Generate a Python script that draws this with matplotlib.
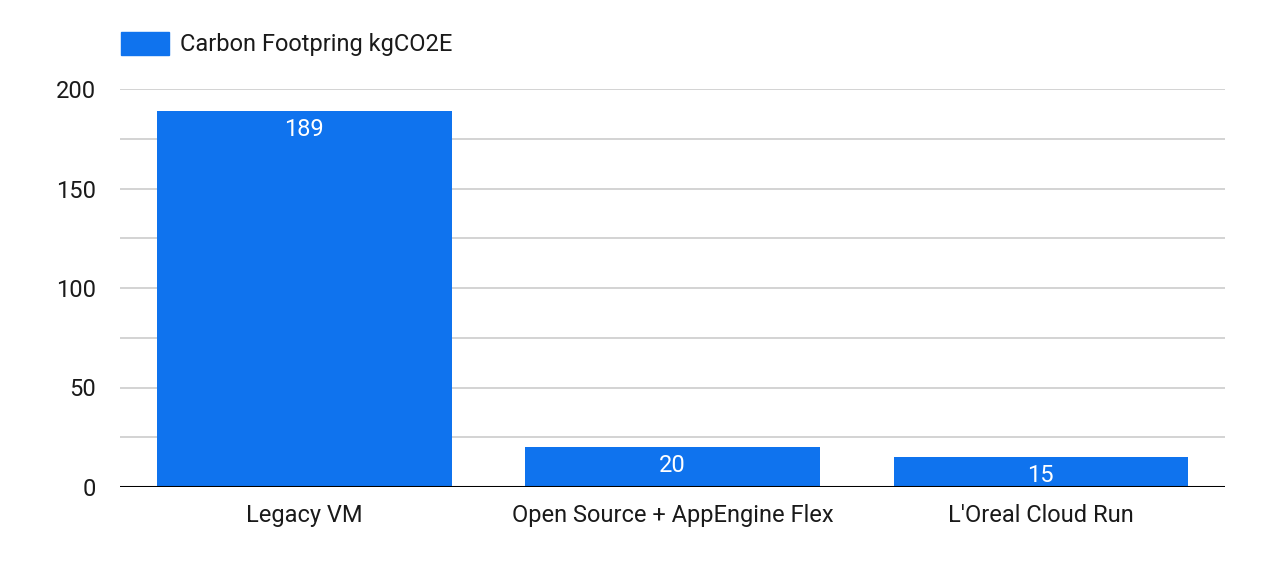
import matplotlib
matplotlib.use("Agg")
import numpy as np
import matplotlib.pyplot as plt
from matplotlib.patches import Rectangle

categories = ["Legacy VM", "Open Source + AppEngine Flex", "L'Oreal Cloud Run"]
values = [189, 20, 15]
series_name = "Carbon Footpring kgCO2E"
yticks = [0, 50, 100, 150, 200]

plt.rcParams['font.family'] = ['Roboto', 'DejaVu Sans']
bar_color = "#0f73ee"
text_color = "#1a1a1a"

fig = plt.figure(figsize=(12.88, 5.84), dpi=100)
ax = fig.add_axes([120/1288, 1-487/584, (1225-120)/1288, (487-89)/584])

x = np.arange(len(categories))
ax.bar(x, values, width=0.8, color=bar_color, zorder=3)
for xi, v in zip(x, values):
    ax.annotate(str(v), (xi, v), xytext=(0, -5), textcoords="offset points",
                ha="center", va="top", color="white", fontsize=17, zorder=4)

ax.set_xlim(-0.5, len(categories)-0.5)
ax.set_ylim(0, 200)
ax.set_yticks(yticks)
ax.set_yticks(np.arange(25, 200, 50), minor=True)
ax.set_xticks(x)
ax.set_xticklabels(categories)
ax.grid(axis="y", which="both", color="#cccccc", linewidth=1.2, zorder=0)
ax.axhline(0, color="black", linewidth=2.2, zorder=5)
ax.tick_params(axis="both", which="both", length=0, labelsize=17, colors=text_color)
ax.tick_params(axis="y", pad=17)
ax.tick_params(axis="x", pad=12)
for s in ax.spines.values():
    s.set_visible(False)

# legend
fig.patches.append(Rectangle((121/1288, 1-55/584), 48/1288, 23/584,
                             transform=fig.transFigure, color=bar_color))
fig.text(180/1288, 1-44/584, series_name, fontsize=17, va="center", ha="left",
         color=text_color)

fig.savefig("out.png", dpi=100)
